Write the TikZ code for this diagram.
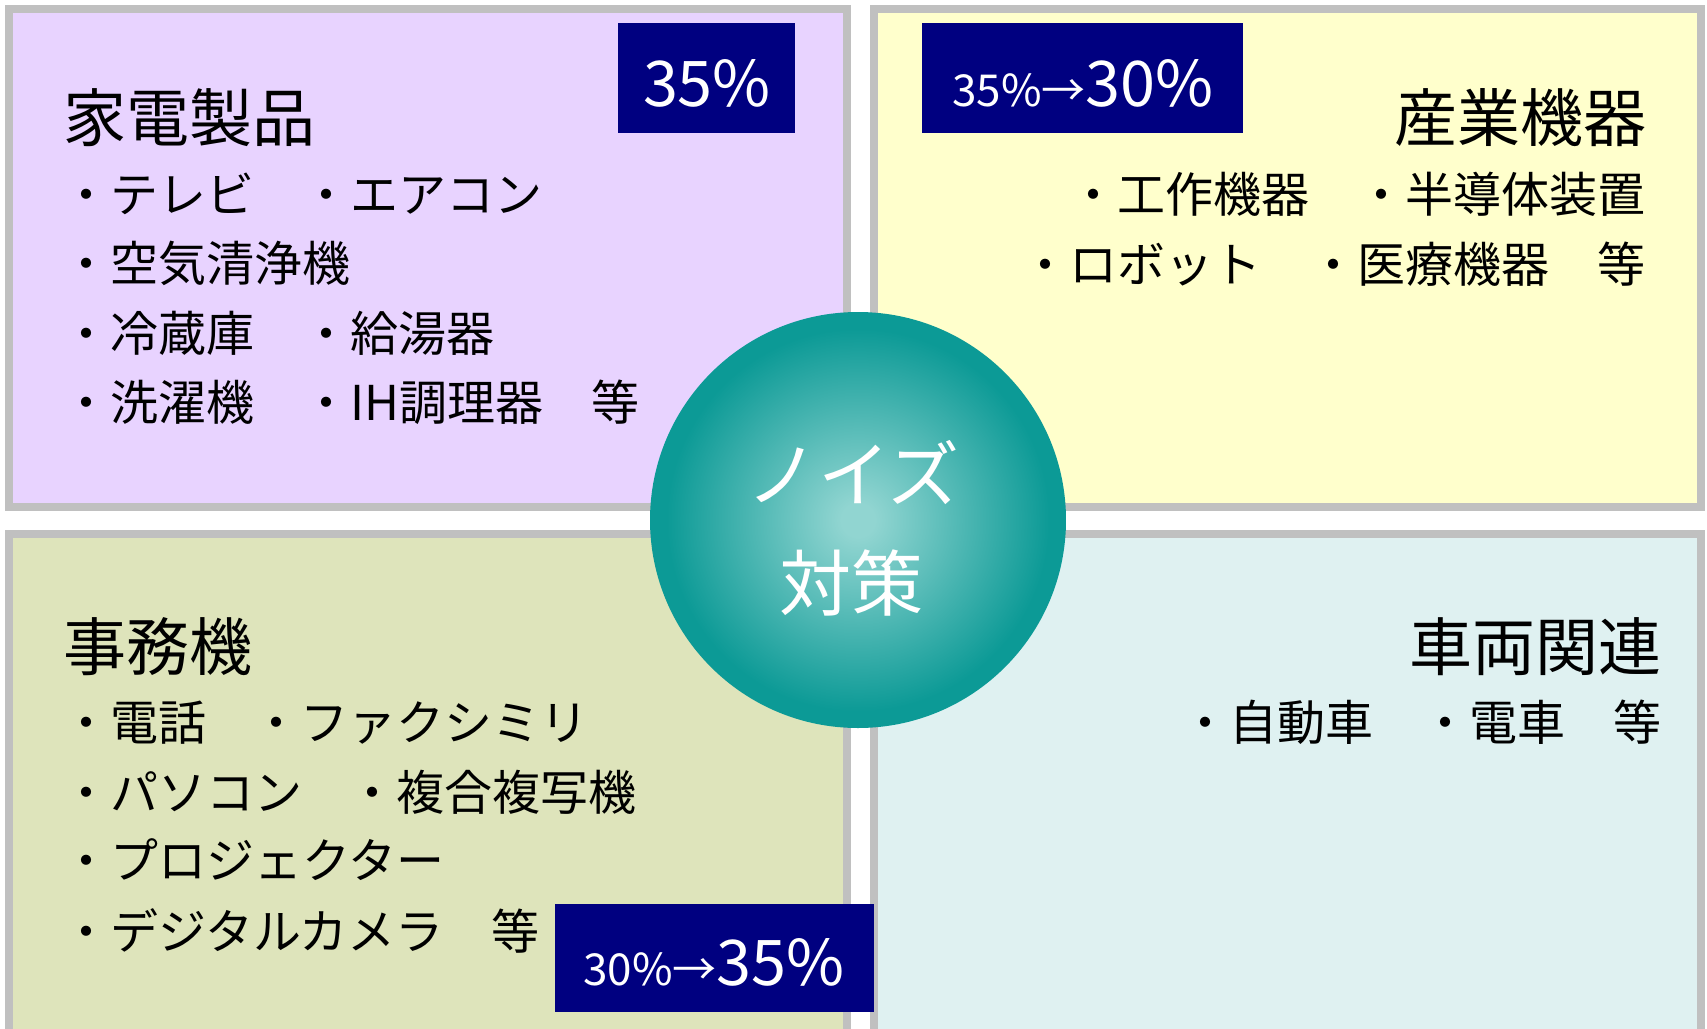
\documentclass[tikz,border=0pt]{standalone}
\usepackage{fontspec}
\newfontfamily\jp{Noto Sans CJK JP}
\definecolor{bordergray}{RGB}{192,192,192}
\definecolor{navy}{RGB}{0,0,128}
\definecolor{lav}{RGB}{232,211,255}
\definecolor{ylw}{RGB}{255,255,204}
\definecolor{olv}{RGB}{222,228,187}
\definecolor{aqua}{RGB}{223,241,241}
\definecolor{ballin}{RGB}{145,213,209}
\definecolor{ballout}{RGB}{12,154,150}
\pgfdeclareradialshading{noiseball}{\pgfpoint{0bp}{0bp}}{color(0bp)=(ballin); color(2bp)=(ballin); color(23bp)=(ballout); color(50bp)=(ballout)}
\tikzset{
  quad/.style={fill=#1, draw=bordergray, line width=8pt},
  badge/.style={fill=navy, draw=none},
  badgetext/.style={anchor=base, inner sep=0, text=white, font=\jp},
  item/.style={anchor=base west, inner sep=0, font=\jp\fontsize{48}{48}\selectfont},
  itemr/.style={anchor=base east, inner sep=0, font=\jp\fontsize{48}{48}\selectfont},
  ttl/.style={inner sep=0, font=\jp\fontsize{63}{63}\selectfont},
  balltext/.style={anchor=base, inner sep=0, text=white, font=\jp\fontsize{72}{72}\selectfont},
}
\newcommand{\bigpct}[1]{{\fontsize{63}{63}\selectfont #1}}
\newcommand{\smallpct}[1]{{\fontsize{44}{44}\selectfont #1}}
\begin{document}
\begin{tikzpicture}[x=1pt,y=-1pt]
\useasboundingbox (0,0) rectangle (1707,1028);
\clip (0,0) rectangle (1707,1028);
\fill[white] (0,0) rectangle (1707,1028);
% quadrants
\draw[quad=lav] (9,9) rectangle (847,507);
\draw[quad=ylw] (874,9) rectangle (1701,507);
\draw[quad=olv] (9,534) rectangle (847,1100);
\draw[quad=aqua] (874,534) rectangle (1701,1100);
% top-left
\node[ttl, anchor=base west] (t1) at (63,141) {家電製品};
\node[item] (a1) at (62,212) {・テレビ};
\node[item] (a2) at (302,212) {・エアコン};
\node[item] (a3) at (62,281) {・空気清浄機};
\node[item] (a4) at (62,351) {・冷蔵庫};
\node[item] (a5) at (302,351) {・給湯器};
\node[item] (a6) at (62,420) {・洗濯機};
\node[item] (a7) at (302,420) {・IH調理器　等};
\fill[badge] (618,23) rectangle (795,133);
\node[badgetext] (p1) at (707,106) {\bigpct{35\%}};
% top-right
\node[ttl, anchor=base east] (t2) at (1647,141) {産業機器};
\node[itemr] (b1) at (1310,212) {・工作機器};
\node[itemr] (b2) at (1646,212) {・半導体装置};
\node[itemr] (b3) at (1262,282) {・ロボット};
\node[itemr] (b4) at (1646,282) {・医療機器　等};
\fill[badge] (922,23) rectangle (1243,133);
\node[badgetext] (p2) at (1083,106) {\smallpct{35\%→}\bigpct{30\%}};
% bottom-left
\node[ttl, anchor=base west] (t3) at (63,670) {事務機};
\node[item] (c1) at (62,740) {・電話};
\node[item] (c2) at (252,740) {・ファクシミリ};
\node[item] (c3) at (62,810) {・パソコン};
\node[item] (c4) at (348,810) {・複合複写機};
\node[item] (c5) at (62,878) {・プロジェクター};
\node[item] (c6) at (62,949) {・デジタルカメラ　等};
\fill[badge] (555,904) rectangle (874,1012);
\node[badgetext] (p3) at (714,985) {\smallpct{30\%→}\bigpct{35\%}};
% bottom-right
\node[ttl, anchor=base east] (t4) at (1662,670) {車両関連};
\node[item] (d1) at (1181,740) {・自動車};
\node[item] (d2) at (1421,740) {・電車　等};
% center ball
\node[circle, minimum size=416pt, inner sep=0, shading=noiseball] (ball) at (858,520) {};
\node[balltext] (n1) at (853,501) {ノイズ};
\node[balltext] (n2) at (851,610) {対策};
\end{tikzpicture}
\end{document}
